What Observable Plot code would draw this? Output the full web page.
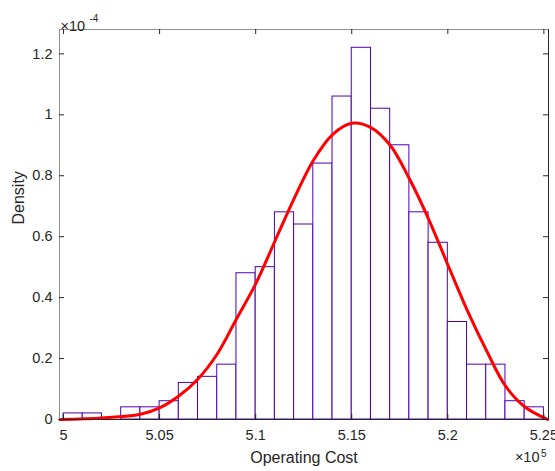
<!DOCTYPE html>
<html>
<head>
<meta charset="utf-8">
<script src="https://cdn.jsdelivr.net/npm/d3@7"></script>
<script src="https://cdn.jsdelivr.net/npm/@observablehq/plot@0.6"></script>
<style>
  html, body { margin: 0; padding: 0; background: #fff; }
  #chart { width: 555px; height: 471px; }
</style>
</head>
<body>
<div id="chart"></div>
<script>
// Histogram bins (Operating Cost, x 10^5) and density (x 10^-4)
const binStart = [5.00, 5.01, 5.02, 5.03, 5.04, 5.05, 5.06, 5.07, 5.08, 5.09,
                  5.10, 5.11, 5.12, 5.13, 5.14, 5.15, 5.16, 5.17, 5.18, 5.19,
                  5.20, 5.21, 5.22, 5.23, 5.24];
const binEnd   = [5.01, 5.02, 5.03, 5.04, 5.05, 5.06, 5.07, 5.08, 5.09, 5.10,
                  5.11, 5.12, 5.13, 5.14, 5.15, 5.16, 5.17, 5.18, 5.19, 5.20,
                  5.21, 5.22, 5.23, 5.24, 5.25];
const density  = [0.02, 0.02, 0.00, 0.04, 0.04, 0.06, 0.12, 0.14, 0.18, 0.48,
                  0.50, 0.68, 0.64, 0.84, 1.06, 1.22, 1.02, 0.90, 0.68, 0.58,
                  0.32, 0.18, 0.18, 0.06, 0.04];

// Fitted density curve
const curveX = [4.998, 5.02, 5.04, 5.05, 5.06, 5.07, 5.08, 5.09, 5.10, 5.11,
                5.12, 5.13, 5.14, 5.15, 5.16, 5.17, 5.18, 5.19, 5.20, 5.21,
                5.22, 5.23, 5.24, 5.252];
const curveY = [0.000, 0.005, 0.017, 0.038, 0.077, 0.133, 0.215, 0.330, 0.445, 0.585,
                0.725, 0.850, 0.935, 0.972, 0.958, 0.900, 0.790, 0.658, 0.508, 0.360,
                0.228, 0.110, 0.042, 0.000];

const xTicks = [5, 5.05, 5.1, 5.15, 5.2, 5.25];
const xTickLabels = ["5", "5.05", "5.1", "5.15", "5.2", "5.25"];
const yTicks = [0, 0.2, 0.4, 0.6, 0.8, 1, 1.2];
const yTickLabels = ["0", "0.2", "0.4", "0.6", "0.8", "1", "1.2"];
const xDomain = [4.9979, 5.2524];
const yDomain = [0, 1.28];

const bins = binStart.map((s, i) => ({x1: s, x2: binEnd[i], y: density[i]}));
const curve = curveX.map((x, i) => ({x, y: curveY[i]}));

const W = 555, H = 471, mL = 59, mR = 7, mT = 29, mB = 52;
const fw = W - mL - mR, fh = H - mT - mB;
const dark = "#262626";
const font = "'Liberation Sans', Arial, Helvetica, sans-serif";

const chart = Plot.plot({
  width: W, height: H,
  marginLeft: mL, marginRight: mR, marginTop: mT, marginBottom: mB,
  x: {domain: xDomain},
  y: {domain: yDomain},
  style: {fontFamily: font, fontSize: "14.5px", color: dark, background: "#fff", overflow: "visible"},
  marks: [
    Plot.rectY(bins, {x1: "x1", x2: "x2", y: "y", fill: "#fff", stroke: "#4d00b3", strokeWidth: 1, inset: 0}),
    Plot.line(curve, {x: "x", y: "y", stroke: "#ff0000", strokeWidth: 3, curve: "catmull-rom"}),
    // box
    Plot.ruleX([xDomain[0]], {stroke: "#8f8f8f"}),
    Plot.ruleY([yDomain[1]], {stroke: "#8f8f8f"}),
    Plot.ruleX([xDomain[1]], {stroke: dark}),
    Plot.ruleY([yDomain[0]], {stroke: dark}),
    // inward ticks on all four sides
    Plot.ruleX(xTicks, {stroke: dark, insetTop: fh - 5}),
    Plot.ruleX(xTicks, {stroke: dark, insetBottom: fh - 5}),
    Plot.ruleY(yTicks, {stroke: dark, insetRight: fw - 5}),
    Plot.ruleY(yTicks, {stroke: dark, insetLeft: fw - 5}),
    // tick labels
    Plot.axisX({ticks: xTicks, tickSize: 0, tickPadding: 10, label: null,
      tickFormat: d => xTickLabels[xTicks.indexOf(d)]}),
    Plot.axisY({ticks: yTicks, tickSize: 0, tickPadding: 7, label: null,
      tickFormat: d => yTickLabels[yTicks.indexOf(d)]}),
    // axis titles
    Plot.text(["Operating Cost"], {frameAnchor: "bottom", dy: 43, fontSize: 16, fill: dark}),
    Plot.text(["Density"], {frameAnchor: "left", dx: -41, rotate: -90, fontSize: 16, fill: dark}),
    // exponent labels
    Plot.text(["×10"], {frameAnchor: "top-left", textAnchor: "start", dx: 1, dy: -8.6, fontSize: 14.5, fill: dark}),
    Plot.text(["-4"], {frameAnchor: "top-left", textAnchor: "start", dx: 30, dy: -14.5, fontSize: 10, fill: dark}),
    Plot.text(["×10"], {frameAnchor: "bottom-right", textAnchor: "end", dx: -9, dy: 42.8, fontSize: 14.5, fill: dark}),
    Plot.text(["5"], {frameAnchor: "bottom-right", textAnchor: "end", dx: -2, dy: 37.5, fontSize: 10, fill: dark})
  ]
});
document.getElementById("chart").appendChild(chart);
</script>
</body>
</html>
